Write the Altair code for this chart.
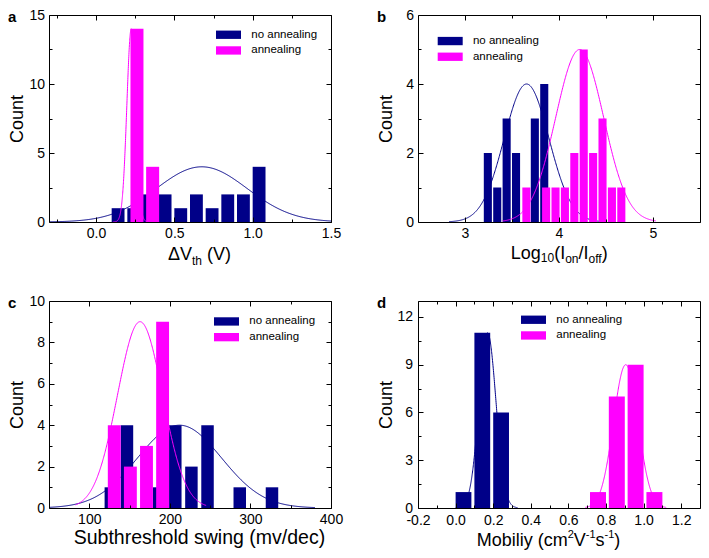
import altair as alt
import pandas as pd

FONT = "Liberation Sans"
BLUE = "#000088"
PINK = "#FF00FF"
SERIES = ["no annealing", "annealing"]
COLORS = [BLUE, PINK]

W, H = 282, 207          # plot area of every panel
SV, SH = 79, 87          # row / column spacing between plot areas

# ---------------- data ----------------
# bar left edges (x0) and counts; fits = [mean, sd, amplitude, x from, x to]
# Panel a : Delta V_th
a_blue_x0 = [0.10, 0.20, 0.30, 0.40, 0.50, 0.60, 0.70, 0.80, 0.90, 1.00]
a_blue_n = [1, 1, 2, 2, 1, 2, 1, 2, 2, 4]
a_pink_x0 = [0.22, 0.32]
a_pink_n = [14, 4]
a_blue_fit = [0.675, 0.29, 4, -0.3, 1.5]
a_pink_fit = [0.225, 0.028, 14, 0.11, 0.34]

# Panel b : log10(Ion/Ioff)
b_blue_x0 = [3.2, 3.3, 3.4, 3.5, 3.7, 3.8]
b_blue_n = [2, 1, 3, 2, 3, 4]
b_pink_x0 = [3.61, 3.82, 3.92, 4.02, 4.12, 4.22, 4.32, 4.42, 4.52, 4.62]
b_pink_n = [1, 1, 1, 1, 2, 5, 2, 3, 1, 1]
b_blue_fit = [3.655, 0.238, 4, 2.83, 4.45]
b_pink_fit = [4.22, 0.255, 5, 3.4, 5.03]

# Panel c : subthreshold swing
c_blue_x0 = [119, 139, 179, 199, 219, 239, 279, 319]
c_blue_n = [1, 4, 1, 4, 2, 4, 1, 1]
c_pink_x0 = [123, 143, 163, 183]
c_pink_n = [4, 2, 3, 9]
c_blue_fit = [212, 52, 4, 50, 380]
c_pink_fit = [163, 28, 9, 83, 245]

# Panel d : mobility
d_blue_x0 = [0.0, 0.1, 0.2]
d_blue_n = [1, 11, 6]
d_pink_x0 = [0.715, 0.815, 0.915, 1.015]
d_pink_n = [1, 7, 9, 1]
d_blue_fit = [0.17, 0.045, 11, 0.0, 0.33]
d_pink_fit = [0.905, 0.065, 9, 0.69, 1.12]

# Arial / Liberation Sans advance widths (per 1000 em) for title layout
AW = {' ': 278, '(': 333, ')': 333, '/': 278, '-': 333, 'Δ': 668,
      'C': 722, 'I': 278, 'L': 556, 'M': 833, 'S': 667, 'V': 667,
      'a': 556, 'b': 556, 'c': 500, 'd': 556, 'e': 556, 'f': 278, 'g': 556,
      'h': 556, 'i': 222, 'l': 222, 'm': 833, 'n': 556, 'o': 556, 'r': 333,
      's': 500, 't': 278, 'u': 556, 'v': 500, 'w': 722, 'y': 500}


def tw(s, size):
    return sum(AW.get(ch, 556) for ch in s) * size / 1000.0


def text_layer(t, x, y, size, weight="normal"):
    return alt.Chart(pd.DataFrame({"t": [t]})).mark_text(
        align="left", baseline="alphabetic", font=FONT, fontSize=size,
        fontWeight=weight, color="black"
    ).encode(text="t:N", x=alt.value(x), y=alt.value(y))


def label_expr(fmt):
    if fmt == "d":
        return "format(datum.value, 'd')"
    return ("datum.value < 0 ? '-' + format(-datum.value, '%s') : format(datum.value, '%s')"
            % (fmt, fmt))


def panel(P):
    df_b = pd.DataFrame({"x0": P["bx0"], "n": P["bn"], "series": SERIES[0]})
    df_p = pd.DataFrame({"x0": P["px0"], "n": P["pn"], "series": SERIES[1]})
    xs = alt.Scale(domain=P["xdom"], nice=False, zero=False)
    ys = alt.Scale(domain=P["ydom"], nice=False, zero=False)
    cs = alt.Scale(domain=SERIES, range=COLORS)
    leg = alt.Legend(
        orient="none", legendX=P["leg"][0], legendY=P["leg"][1], title=None,
        direction="vertical", symbolType="M-3,-1H3V1H-3Z", symbolSize=69.44,
        symbolStrokeWidth=0, symbolOpacity=1, symbolOffset=6.75, labelOffset=17,
        rowPadding=2.7, padding=0, labelFont=FONT, labelFontSize=11.5,
        labelColor="black")

    def bars(df, w):
        return alt.Chart(df).transform_calculate(
            x1="datum.x0 + %s" % w
        ).mark_rect().encode(
            x=alt.X("x0:Q", scale=xs, axis=None),
            x2="x1:Q",
            y=alt.Y("n:Q", scale=ys, axis=None),
            y2=alt.datum(0),
            color=alt.Color("series:N", scale=cs, legend=leg))

    def curve(fit, col):
        mu, sd, A, lo, hi = fit
        return alt.Chart(alt.sequence(0, 1.0001, 0.0025, as_="t")).transform_calculate(
            x="%s + datum.t*(%s)" % (lo, hi - lo)
        ).transform_calculate(
            y="%s*exp(-0.5*pow((datum.x-(%s))/%s, 2))" % (A, mu, sd)
        ).mark_line(strokeWidth=1, clip=True, color=col).encode(
            x=alt.X("x:Q", scale=xs, axis=None),
            y=alt.Y("y:Q", scale=ys, axis=None))

    layers = [curve(P["bfit"], BLUE), bars(df_b, P["bw"]),
              curve(P["pfit"], PINK), bars(df_p, P["pw"])]

    base = dict(tickColor="black", tickWidth=1, domainColor="black", domainWidth=1,
                grid=False, zindex=1, labelFont=FONT, labelColor="black",
                labelFontSize=P["lab"], labelFlush=False, labelOverlap=False)
    specs = [("bottom", "left", P["xmaj"], P["ymaj"], 5, True, True),
             ("bottom", "left", P["xmin"], P["ymin"], 3, False, False),
             ("top", "right", P["xmaj"], P["ymaj"], 5, False, True),
             ("top", "right", P["xmin"], P["ymin"], 3, False, False)]
    for xo, yo, xv, yv, sz, lab, dom in specs:
        xkw = dict(base)
        ykw = dict(base)
        if lab:
            xkw.update(labelPadding=P["xlp"], labelExpr=label_expr(P["xfmt"]))
            ykw.update(labelPadding=P["ylp"], labelExpr=label_expr("d"),
                       title="Count", titleFont=FONT, titleFontSize=18,
                       titleFontWeight="normal", titleColor="black", titleAngle=270,
                       titleAlign="center", titleBaseline="alphabetic",
                       titleX=-27, titleY=H / 2)
        else:
            ykw.update(title=None)
        xa = alt.Axis(orient=xo, values=xv, tickSize={"expr": str(-sz)},
                      labels=lab, domain=dom, title=None, **xkw)
        ya = alt.Axis(orient=yo, values=yv, tickSize={"expr": str(-sz)},
                      labels=lab, domain=dom, **ykw)
        layers.append(alt.Chart(df_b).mark_point(opacity=0).encode(
            x=alt.X("x0:Q", scale=xs, axis=xa),
            y=alt.Y("n:Q", scale=ys, axis=ya)))

    # panel letter
    layers.append(text_layer(P["letter"], -41, 7, 15, "bold"))
    # x axis title (with sub / superscripts)
    x = P["tx"]
    for s, size, dy in P["title"]:
        lead = len(s) - len(s.lstrip())
        layers.append(text_layer(s.strip(), x + tw(s[:lead], size), H + P["tb"] + dy, size))
        x += tw(s, size)

    return alt.layer(*layers).resolve_axis(
        x="independent", y="independent").properties(width=W, height=H)


def rng(a, b, step):
    out, v = [], a
    while v <= b + 1e-9:
        out.append(round(v, 4))
        v += step
    return out


PA = dict(letter="a", bx0=a_blue_x0, bn=a_blue_n, px0=a_pink_x0, pn=a_pink_n,
          bfit=a_blue_fit, pfit=a_pink_fit, bw=0.082, pw=0.083,
          xdom=[-0.3, 1.5], xmaj=[0, 0.5, 1.0, 1.5], xmin=[-0.25, 0.25, 0.75, 1.25], xfmt=".1f",
          ydom=[0, 15], ymaj=[0, 5, 10, 15], ymin=[2.5, 7.5, 12.5],
          leg=(167, 14), lab=14, tx=119, tb=38, xlp=9.5, ylp=9.4,
          title=[("ΔV", 18, 0), ("th", 12, 5), (" (V)", 18, 0)])
PB = dict(letter="b", bx0=b_blue_x0, bn=b_blue_n, px0=b_pink_x0, pn=b_pink_n,
          bfit=b_blue_fit, pfit=b_pink_fit, bw=0.086, pw=0.086,
          xdom=[2.5, 5.5], xmaj=[3, 4, 5], xmin=[3.5, 4.5], xfmt="d",
          ydom=[0, 6], ymaj=[0, 2, 4, 6], ymin=[1, 3, 5],
          leg=(19.7, 20.3), lab=14, tx=92.8, tb=37, xlp=9.5, ylp=9.4,
          title=[("Log", 18, 0), ("10", 12, 3), ("(I", 18, 0), ("on", 12, 4),
                 ("/I", 18, 0), ("off", 12, 4), (")", 18, 0)])
PC = dict(letter="c", bx0=c_blue_x0, bn=c_blue_n, px0=c_pink_x0, pn=c_pink_n,
          bfit=c_blue_fit, pfit=c_pink_fit, bw=15.5, pw=16,
          xdom=[50, 400], xmaj=[100, 200, 300, 400], xmin=[150, 250, 350], xfmt="d",
          ydom=[0, 10], ymaj=[0, 2, 4, 6, 8, 10], ymin=[1, 3, 5, 7, 9],
          leg=(165, 14.7), lab=14, tx=24.7, tb=36, xlp=9.5, ylp=9.4,
          title=[("Subthreshold swing (mv/dec)", 19.5, 0)])
PD = dict(letter="d", bx0=d_blue_x0, bn=d_blue_n, px0=d_pink_x0, pn=d_pink_n,
          bfit=d_blue_fit, pfit=d_pink_fit, bw=0.084, pw=0.085,
          xdom=[-0.2, 1.3], xmaj=rng(-0.2, 1.2, 0.2), xmin=rng(-0.1, 1.1, 0.2), xfmt=".1f",
          ydom=[0, 13], ymaj=[0, 3, 6, 9, 12], ymin=[1.5, 4.5, 7.5, 10.5],
          leg=(103, 13), lab=14, tx=58.7, tb=38, xlp=10.5, ylp=10.4,
          title=[("Mobiliy (cm", 18, 0), ("2", 11, -8), ("V", 18, 0), ("-1", 11, -8),
                 ("s", 18, 0), ("-1", 11, -8), (")", 18, 0)])

chart = alt.concat(
    panel(PA), panel(PB), panel(PC), panel(PD),
    columns=2, spacing={"row": SV, "column": SH}, bounds="flush"
).resolve_scale(color="independent").resolve_legend(color="independent").properties(
    padding=0
).configure(font=FONT).configure_view(stroke=None)

chart.save("out.html", embed_options={"renderer": "svg", "actions": False})
